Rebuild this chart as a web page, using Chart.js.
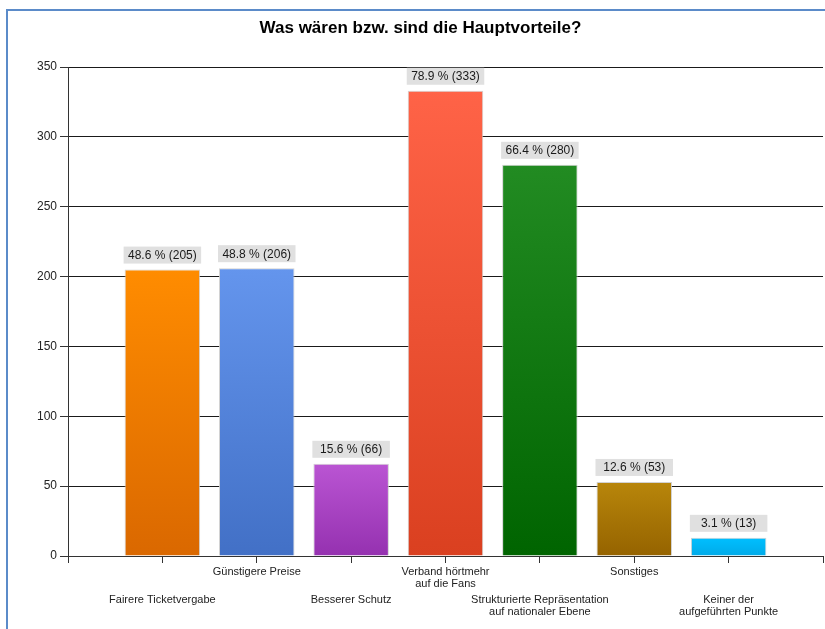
<!DOCTYPE html>
<html>
<head>
<meta charset="utf-8">
<script src="https://cdn.jsdelivr.net/npm/chart.js@4.4.0/dist/chart.umd.min.js"></script>
<style>
  html, body { margin: 0; padding: 0; background: #fff; overflow: hidden; }
  #wrap { position: relative; width: 825px; height: 629px; }
  #frame { position: absolute; left: 6px; top: 9px; width: 900px; height: 700px;
           border-left: 2px solid #5b8bc9; border-top: 2px solid #5b8bc9; pointer-events: none; }
  canvas { position: absolute; left: 0; top: 0; }
</style>
</head>
<body>
<div id="wrap">
  <canvas id="c" width="825" height="629"></canvas>
  <div id="frame"></div>
</div>
<script>
const titleText = 'Was wären bzw. sind die Hauptvorteile?';
const categories = [
  ['Fairere Ticketvergabe'],
  ['Günstigere Preise'],
  ['Besserer Schutz'],
  ['Verband hörtmehr', 'auf die Fans'],
  ['Strukturierte Repräsentation', 'auf nationaler Ebene'],
  ['Sonstiges'],
  ['Keiner der', 'aufgeführten Punkte']
];
const counts = [205, 206, 66, 333, 280, 53, 13];
const percents = ['48.6', '48.8', '15.6', '78.9', '66.4', '12.6', '3.1'];
const topColors = ['#FF8C00', '#6495ED', '#BA55D3', '#FF6347', '#228B22', '#B8860B', '#00BFFF'];
const bottomColors = ['#DA6800', '#4270C6', '#9531B0', '#DA4020', '#006400', '#956300', '#00AAE8'];
const yTicks = [0, 50, 100, 150, 200, 250, 300, 350];

// category slots: empty slot at both ends, bars at 1..7
const labels = [''].concat(categories.map(c => c.join(' ')), ['']);
const values = [null].concat(counts, [null]);

function grad(context) {
  const chart = context.chart;
  const area = chart.chartArea;
  const idx = context.dataIndex - 1;
  if (idx < 0 || idx >= counts.length) return 'transparent';
  if (!area) return topColors[idx];
  const y = chart.scales.y;
  const g = chart.ctx.createLinearGradient(0, y.getPixelForValue(counts[idx]), 0, y.getPixelForValue(0));
  g.addColorStop(0, topColors[idx]);
  g.addColorStop(1, bottomColors[idx]);
  return g;
}

const labelPlugin = {
  id: 'barLabels',
  afterDatasetsDraw(chart) {
    const ctx = chart.ctx;
    const meta = chart.getDatasetMeta(0);
    ctx.save();
    ctx.font = '12px "Liberation Sans", Arial, sans-serif';
    ctx.textAlign = 'center';
    ctx.textBaseline = 'middle';
    meta.data.forEach((bar, i) => {
      const idx = i - 1;
      if (idx < 0 || idx >= counts.length) return;
      const w = bar.width + 2;
      const h = 17;
      const bottom = bar.y - 6;
      ctx.fillStyle = '#e0e0e0';
      ctx.fillRect(bar.x - w / 2, bottom - h, w, h);
      ctx.fillStyle = '#1a1a1a';
      ctx.fillText(percents[idx] + ' % (' + counts[idx] + ')', bar.x, bottom - h / 2 + 0.5);
    });
    ctx.restore();
  }
};

const xLabelPlugin = {
  id: 'xLabels',
  afterDraw(chart) {
    const ctx = chart.ctx;
    const x = chart.scales.x;
    const base = chart.chartArea.bottom;
    ctx.save();
    ctx.font = '11px "Liberation Sans", Arial, sans-serif';
    ctx.fillStyle = '#222';
    ctx.textAlign = 'center';
    ctx.textBaseline = 'middle';
    categories.forEach((lines, idx) => {
      const px = x.getPixelForTick(idx + 1);
      const firstY = base + (idx % 2 === 0 ? 44 : 16);
      lines.forEach((ln, k) => ctx.fillText(ln, px, firstY + k * 11.5));
    });
    ctx.restore();
  }
};

new Chart(document.getElementById('c'), {
  type: 'bar',
  data: {
    labels: labels,
    datasets: [{
      data: values,
      backgroundColor: grad,
      borderColor: 'rgba(205,205,205,0.9)',
      borderWidth: 1,
      borderSkipped: 'bottom',
      categoryPercentage: 1,
      barPercentage: 0.8
    }]
  },
  options: {
    responsive: false,
    animation: false,
    layout: { padding: { left: 18, right: 2, top: 0, bottom: 0 } },
    plugins: {
      legend: { display: false },
      tooltip: { enabled: false },
      title: {
        display: true,
        text: titleText,
        color: '#000',
        font: { family: '"Liberation Sans", Arial, sans-serif', size: 17, weight: 'bold' },
        padding: { top: 18, bottom: 28.6 }
      }
    },
    scales: {
      x: {
        type: 'category',
        offset: false,
        grid: { display: true, offset: false, drawOnChartArea: false, drawTicks: true, tickLength: 7, color: '#333' },
        border: { display: true, color: '#333' },
        ticks: { display: false, autoSkip: false },
        afterFit(s) { s.height = 73; }
      },
      y: {
        min: 0, max: 350,
        afterBuildTicks(s) { s.ticks = yTicks.map(v => ({ value: v })); },
        grid: { color: '#1a1a1a', tickLength: 8, tickColor: '#333' },
        border: { display: true, color: '#333' },
        ticks: {
          color: '#222', padding: 3,
          font: { family: '"Liberation Sans", Arial, sans-serif', size: 12 }
        },
        afterFit(s) { s.width = 50; }
      }
    }
  },
  plugins: [labelPlugin, xLabelPlugin]
});
</script>
</body>
</html>
